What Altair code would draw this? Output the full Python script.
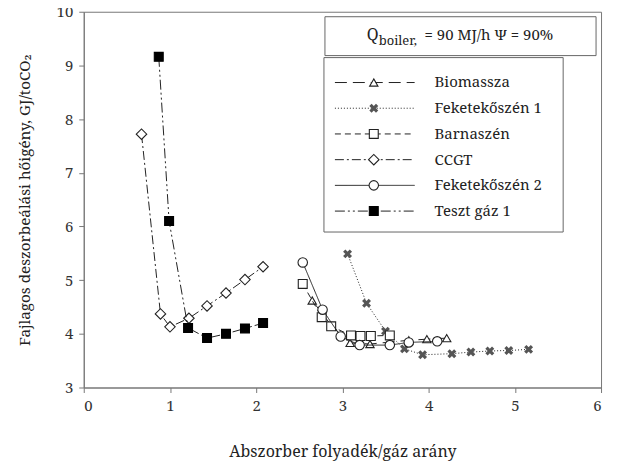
import altair as alt
import pandas as pd

FONT = "Noto Serif"

series_names = ["Biomassza", "Feketekőszén 1", "Barnaszén", "CCGT", "Feketekőszén 2", "Teszt gáz 1"]

bio_x = [2.65, 2.88, 3.09, 3.32, 3.77, 3.98, 4.21]
bio_y = [4.62, 4.14, 3.83, 3.81, 3.88, 3.90, 3.92]
fek1_x = [3.06, 3.28, 3.50, 3.72, 3.93, 4.27, 4.49, 4.71, 4.93, 5.16]
fek1_y = [5.49, 4.57, 4.05, 3.72, 3.61, 3.63, 3.66, 3.68, 3.69, 3.71]
barna_x = [2.54, 2.76, 2.87, 3.10, 3.21, 3.33, 3.55]
barna_y = [4.93, 4.31, 4.14, 3.97, 3.96, 3.96, 3.97]
ccgt_x = [0.67, 0.89, 1.00, 1.22, 1.43, 1.65, 1.87, 2.08]
ccgt_y = [7.72, 4.37, 4.13, 4.29, 4.52, 4.76, 5.01, 5.25]
fek2_x = [2.54, 2.77, 2.98, 3.20, 3.55, 3.77, 4.10]
fek2_y = [5.33, 4.45, 3.95, 3.79, 3.79, 3.84, 3.86]
teszt_x = [0.87, 0.99, 1.21, 1.43, 1.65, 1.87, 2.08]
teszt_y = [9.16, 6.10, 4.11, 3.92, 4.00, 4.10, 4.20]

xs = [bio_x, fek1_x, barna_x, ccgt_x, fek2_x, teszt_x]
ys = [bio_y, fek1_y, barna_y, ccgt_y, fek2_y, teszt_y]

XPATH = "M-0.8,-0.8L0.8,0.8M-0.8,0.8L0.8,-0.8"

styles = [
    dict(dash=[12, 6], shape="triangle-up", kind="open", color="#222", size=70, sw=1.1),
    dict(dash=[1, 2], shape=XPATH, kind="stroke", color="#555", size=70, sw=3.2),
    dict(dash=[6, 4], shape="square", kind="open", color="#222", size=80, sw=1.1),
    dict(dash=[9, 3, 2, 3], shape="diamond", kind="open", color="#222", size=110, sw=1.1),
    dict(dash=[1, 0], shape="circle", kind="open", color="#222", size=90, sw=1.1),
    dict(dash=[10, 3, 2, 3, 2, 3], shape="square", kind="filled", color="#000", size=80, sw=1.1),
]


def point_mark(chart, st):
    if st["kind"] == "filled":
        return chart.mark_point(filled=True, fill=st["color"], stroke=st["color"], strokeWidth=st["sw"],
                                shape=st["shape"], size=st["size"], opacity=1)
    if st["kind"] == "stroke":
        return chart.mark_point(filled=False, stroke=st["color"], strokeWidth=st["sw"],
                                shape=st["shape"], size=st["size"], opacity=1)
    return chart.mark_point(filled=True, fill="white", stroke=st["color"], strokeWidth=st["sw"],
                            shape=st["shape"], size=st["size"], opacity=1)


W, H = 519, 377
xscale = alt.Scale(domain=[0, 6], nice=False)
yscale = alt.Scale(domain=[3, 10], nice=False)

layers = []
for name, x, y, st in zip(series_names, xs, ys, styles):
    df = pd.DataFrame({"x": x, "y": y, "i": list(range(len(x))), "s": name})
    base = alt.Chart(df)
    line = base.mark_line(strokeDash=st["dash"], strokeWidth=1, color="#222").encode(
        x=alt.X("x:Q", scale=xscale,
                axis=alt.Axis(values=[0, 1, 2, 3, 4, 5, 6], format="d", title="Abszorber folyadék/gáz arány")),
        y=alt.Y("y:Q", scale=yscale,
                axis=alt.Axis(values=[3, 4, 5, 6, 7, 8, 9, 10], format="d",
                              title="Fajlagos deszorbeálási hőigény, GJ/toCO₂", titleLimit=1000)),
        order="i:Q",
    )
    pt = point_mark(base, st).encode(x="x:Q", y="y:Q")
    layers += [line, pt]

# Annotation box
layers.append(alt.Chart().mark_rect(fill="white", stroke="#666", strokeWidth=1).encode(
    x=alt.value(242), x2=alt.value(514), y=alt.value(5), y2=alt.value(44)))
layers.append(alt.Chart().mark_text(align="left", baseline="middle", font=FONT, fontSize=16, color="#222").encode(
    x=alt.value(284), y=alt.value(23), text=alt.value("Q")))
layers.append(alt.Chart().mark_text(align="left", baseline="middle", font=FONT, fontSize=13, color="#222").encode(
    x=alt.value(296), y=alt.value(29), text=alt.value("boiler,")))
layers.append(alt.Chart().mark_text(align="left", baseline="middle", font=FONT, fontSize=15, color="#222").encode(
    x=alt.value(342), y=alt.value(23), text=alt.value("= 90 MJ/h Ψ = 90%")))

# Legend box
layers.append(alt.Chart().mark_rect(fill="white", stroke="#666", strokeWidth=1).encode(
    x=alt.value(241), x2=alt.value(481), y=alt.value(46), y2=alt.value(221)))
for k, (name, st) in enumerate(zip(series_names, styles)):
    yy = 71 + k * 25.8
    layers.append(alt.Chart().mark_rule(strokeDash=st["dash"], strokeWidth=1, color="#222").encode(
        x=alt.value(252), x2=alt.value(332), y=alt.value(yy)))
    layers.append(point_mark(alt.Chart(), st).encode(x=alt.value(291), y=alt.value(yy)))
    layers.append(alt.Chart().mark_text(align="left", baseline="middle", font=FONT, fontSize=15, color="#222").encode(
        x=alt.value(352), y=alt.value(yy), text=alt.value(name)))

chart = alt.layer(*layers).properties(
    width=W, height=H,
    autosize=alt.AutoSizeParams(type="none"),
    padding={"left": 76, "top": 3, "right": 10, "bottom": 80},
).configure_view(stroke="#777", strokeWidth=1).configure_axis(
    grid=False, domainColor="#777", tickColor="#777", tickSize=5,
    labelFont=FONT, labelFontSize=15, labelColor="#333", labelPadding=6,
    titleFont=FONT, titleFontSize=15.3, titleColor="#222", titleFontWeight="normal",
).configure_axisX(titlePadding=30, titleFontSize=16).configure_axisY(titlePadding=24)

chart.save("out.html", embed_options={"renderer": "svg", "actions": False})
